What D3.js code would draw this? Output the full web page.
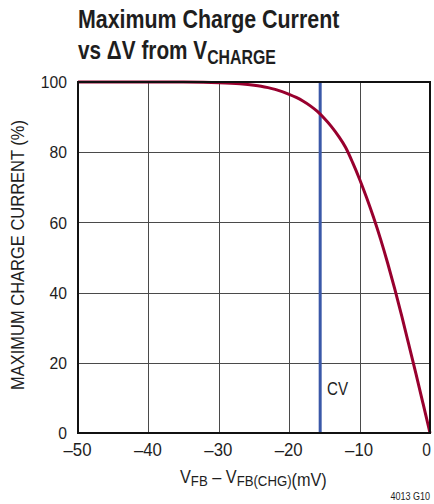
<!DOCTYPE html>
<html><head><meta charset="utf-8">
<script src="https://cdn.jsdelivr.net/npm/d3@7"></script>
<style>
body{margin:0;background:#fff;}
svg{display:block;}
text{font-family:"Liberation Sans",Arial,sans-serif;fill:#1e1e1e;}
</style></head>
<body>
<svg id="chart" width="434" height="504"></svg>
<script>
// Data
const xTicks = [-50, -40, -30, -20, -10, 0];
const yTicks = [0, 20, 40, 60, 80, 100];
const deltaV = [-50, -40, -35, -30, -27, -25, -24, -23, -22, -21, -20, -19, -18, -17, -16, -15, -14, -13, -12, -11, -10, -9, -8, -7, -6, -5, -4, -3, -2, -1, 0];
const currentPct = [100, 100, 99.97, 99.8, 99.5, 99.1, 98.8, 98.4, 97.9, 97.25, 96.5, 95.6, 94.5, 93.2, 91.6, 89.6, 87.3, 84.6, 81.4, 77.1, 72.3, 67.0, 61.3, 55.1, 48.3, 41.0, 33.2, 25.1, 16.9, 8.5, 0];
const cvLevel = -15.6;
const cvLabel = "CV";

const svg = d3.select("#chart");
const L = 78, R = 430, T = 82, B = 433;
const x = d3.scaleLinear().domain([-50, 0]).range([L, R]);
const y = d3.scaleLinear().domain([0, 100]).range([B, T]);

// horizontally condense a text to a target width, keeping its anchor x
function condense(sel, width, ax) {
  const w = sel.node().getBBox().width;
  const k = width / w;
  sel.attr("transform", `translate(${ax},0) scale(${k},1) translate(${-ax},0)`);
}

// grid
svg.append("g").selectAll("line").data(xTicks.slice(1, -1)).join("line")
  .attr("x1", d => Math.round(x(d)) + 0.5).attr("x2", d => Math.round(x(d)) + 0.5).attr("y1", T).attr("y2", B)
  .attr("stroke", "#4a4a4a").attr("stroke-width", 1);
svg.append("g").selectAll("line").data(yTicks.slice(1, -1)).join("line")
  .attr("y1", d => Math.round(y(d)) + 0.5).attr("y2", d => Math.round(y(d)) + 0.5).attr("x1", L).attr("x2", R)
  .attr("stroke", "#4a4a4a").attr("stroke-width", 1);

// CV line
svg.append("line").attr("x1", x(cvLevel)).attr("x2", x(cvLevel)).attr("y1", T).attr("y2", B)
  .attr("stroke", "#3a58a8").attr("stroke-width", 3);

// curve
const pts = deltaV.map((d, i) => [d, currentPct[i]]);
svg.append("path").datum(pts)
  .attr("d", d3.line().x(d => x(d[0])).y(d => y(d[1])).curve(d3.curveMonotoneX))
  .attr("fill", "none").attr("stroke", "#98002e").attr("stroke-width", 3);

// frame
svg.append("rect").attr("x", L).attr("y", T).attr("width", R - L).attr("height", B - T)
  .attr("fill", "none").attr("stroke", "#111").attr("stroke-width", 2);

// x tick labels
const xAxis = d3.axisBottom(x).tickValues(xTicks).tickSize(0).tickPadding(0)
  .tickFormat(d => d === 0 ? "0" : "\u2013" + Math.abs(d));
const gx = svg.append("g").attr("transform", `translate(0,${B})`).call(xAxis);
gx.select(".domain").remove();
gx.selectAll("text").attr("font-size", 19).attr("fill", "#1e1e1e").attr("dy", null).attr("y", 23.5)
  .style("font-family", '"Liberation Sans",Arial,sans-serif')
  .each(function(d) {
    const t = d3.select(this);
    const cx = d === 0 ? -4 : -1;
    t.attr("x", cx);
    const w = this.getBBox().width;
    const k = d === 0 ? 0.82 : 28 / w;
    t.attr("transform", `translate(${cx},0) scale(${k},1) translate(${-cx},0)`);
  });

// y tick labels
const yAxis = d3.axisLeft(y).tickValues(yTicks).tickSize(0).tickPadding(11);
const gy = svg.append("g").attr("transform", `translate(${L},0)`).call(yAxis);
gy.select(".domain").remove();
gy.selectAll("text").attr("font-size", 16).attr("fill", "#1e1e1e").attr("dy", "0.36em")
  .style("font-family", '"Liberation Sans",Arial,sans-serif')
  .attr("transform", "translate(-11,0) scale(0.98,1) translate(11,0)");

// CV label
const cv = svg.append("text").attr("x", 327).attr("y", 395).attr("font-size", 18).text(cvLabel);
condense(cv, 21, 327);

// title
const t1 = svg.append("text").attr("x", 78).attr("y", 28).attr("font-size", 25.5).attr("font-weight", "bold").attr("fill", "#111")
  .text("Maximum Charge Current");
condense(t1, 262, 78);
const t2 = svg.append("text").attr("x", 78).attr("y", 59).attr("font-size", 25.5).attr("font-weight", "bold").attr("fill", "#111");
t2.append("tspan").text("vs \u0394V from V");
t2.append("tspan").attr("font-size", 19.5).attr("dy", 5).text("CHARGE");
condense(t2, 198, 78);

// x title
const xt = svg.append("text").attr("x", 180).attr("y", 483).attr("font-size", 18.5);
xt.append("tspan").text("V");
xt.append("tspan").attr("font-size", 15).attr("dy", 3).text("FB");
xt.append("tspan").attr("dy", -3).text(" \u2013 V");
xt.append("tspan").attr("font-size", 15).attr("dy", 3).text("FB(CHG)");
xt.append("tspan").attr("dy", 0).text("(mV)");
condense(xt, 147, 180);

// y title
const yt = svg.append("text").attr("transform", "translate(24,255) rotate(-90)").attr("text-anchor", "middle")
  .attr("font-size", 17.5).text("MAXIMUM CHARGE CURRENT  (%)");
const ytw = yt.node().getBBox().width;
yt.attr("transform", `translate(24,255) rotate(-90) scale(${270 / ytw},1)`);

// code
const code = svg.append("text").attr("x", 430).attr("y", 500).attr("text-anchor", "end").attr("font-size", 10).text("4013 G10");
condense(code, 40, 430);
</script>
</body></html>
